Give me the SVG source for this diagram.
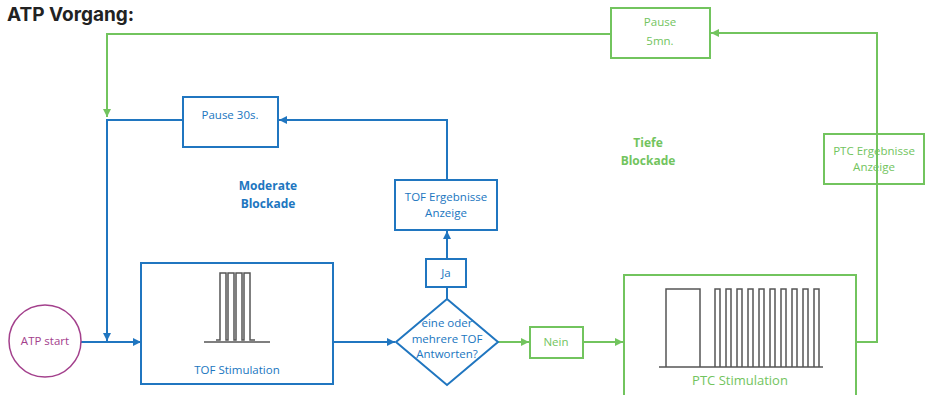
<svg xmlns="http://www.w3.org/2000/svg" width="931" height="395" viewBox="0 0 931 395">
<style>
.b{fill:none;stroke:#2076c0;stroke-width:2}
.g{fill:none;stroke:#72c45e;stroke-width:2}
.bt{fill:#2076c0;font-family:"Open Sans","Liberation Sans",sans-serif;font-size:11.5px;text-anchor:middle}
.gt{fill:#72c45e;font-family:"Open Sans","Liberation Sans",sans-serif;font-size:11.5px;text-anchor:middle}
.bold{font-weight:700;font-size:12px}
.wave{fill:none;stroke:#555;stroke-width:1.5}
</style>
<defs>
<marker id="ab" viewBox="0 0 8 8" refX="8" refY="4" markerWidth="8" markerHeight="8" markerUnits="userSpaceOnUse" orient="auto"><path d="M0,0L8,4L0,8z" fill="#2076c0"/></marker>
<marker id="ag" viewBox="0 0 8 8" refX="8" refY="4" markerWidth="8" markerHeight="8" markerUnits="userSpaceOnUse" orient="auto"><path d="M0,0L8,4L0,8z" fill="#72c45e"/></marker>
</defs>
<rect width="931" height="395" fill="#fff"/>
<text x="7" y="21" font-family="Inter,'Liberation Sans',sans-serif" font-weight="700" font-size="19" fill="#222">ATP Vorgang:</text>

<g id="connectors">
<path class="g" d="M611,34H107V117" marker-end="url(#ag)"/>
<path class="b" d="M183,120H107V341" marker-end="url(#ab)"/>
<path class="b" d="M81,342H141" marker-end="url(#ab)"/>
<path class="b" d="M333,342H395" marker-end="url(#ab)"/>
<path class="b" d="M447,299V287"/>
<path class="b" d="M447,259V231" marker-end="url(#ab)"/>
<path class="b" d="M447,180V120H279" marker-end="url(#ab)"/>
<path class="g" d="M498,342H529" marker-end="url(#ag)"/>
<path class="g" d="M583,342H623" marker-end="url(#ag)"/>
<path class="g" d="M856,342H877V33H711" marker-end="url(#ag)"/>
</g>

<g id="atp-start">
<circle cx="45" cy="341" r="36" fill="#fff" stroke="#a3408c" stroke-width="1.5"/>
<text x="45" y="345" font-family="'Open Sans','Liberation Sans',sans-serif" font-size="11.5" fill="#a3408c" text-anchor="middle">ATP start</text>
</g>

<g id="tof-stimulation">
<rect x="141" y="263" width="192" height="121" class="b" fill="#fff"/>
<path class="wave" stroke="#999" d="M204,342H270"/>
<path class="wave" d="M216,340H220V273H226V340H228V273H234V340H236V273H242V340H244V273H250V340H255"/>
<text x="237" y="374" class="bt">TOF Stimulation</text>
</g>

<g id="decision">
<path d="M447,299L498,342L447,385L396,342Z" class="b" fill="#fff"/>
<text x="447" y="327" class="bt">eine oder</text>
<text x="447" y="343" class="bt">mehrere TOF</text>
<text x="447" y="358" class="bt">Antworten?</text>
</g>

<g id="ja">
<rect x="426" y="259" width="40" height="28" class="b" fill="#fff"/>
<text x="446" y="277" class="bt">Ja</text>
</g>

<g id="tof-ergebnisse">
<rect x="395" y="180" width="102" height="50" class="b" fill="#fff"/>
<text x="446" y="201" class="bt">TOF Ergebnisse</text>
<text x="446" y="217" class="bt">Anzeige</text>
</g>

<g id="pause-30s">
<rect x="183" y="97" width="95" height="50" class="b" fill="#fff"/>
<text x="230" y="119" class="bt">Pause 30s.</text>
</g>

<g id="moderate-label">
<text x="268" y="190" class="bt bold">Moderate</text>
<text x="268" y="208" class="bt bold">Blockade</text>
</g>

<g id="tiefe-label">
<text x="648" y="147" class="gt bold">Tiefe</text>
<text x="648" y="165" class="gt bold">Blockade</text>
</g>

<g id="nein">
<rect x="530" y="327" width="53" height="31" class="g" fill="#fff"/>
<text x="556" y="346" class="gt">Nein</text>
</g>

<g id="ptc-stimulation">
<rect x="624" y="275" width="232" height="130" class="g" fill="#fff"/>
<path class="wave" stroke="#333" d="M659,367H823M666,367V289H700V367M715,367V289H720V367M726,367V289H731V367M737,367V289H742V367M748,367V289H753V367M759,367V289H764V367M770,367V289H775V367M781,367V289H786V367M792,367V289H797V367M803,367V289H808V367M814,367V289H819V367"/>
<text x="740" y="385" class="gt" font-size="13" style="font-size:13px">PTC Stimulation</text>
</g>

<g id="ptc-ergebnisse">
<rect x="824" y="134" width="100" height="50" class="g" fill="#fff"/>
<text x="874" y="155" class="gt">PTC Ergebnisse</text>
<text x="874" y="171" class="gt">Anzeige</text>
</g>

<g id="pause-5mn">
<rect x="611" y="8" width="99" height="50" class="g" fill="#fff"/>
<text x="660" y="26" class="gt">Pause</text>
<text x="660" y="45" class="gt">5mn.</text>
</g>
</svg>
